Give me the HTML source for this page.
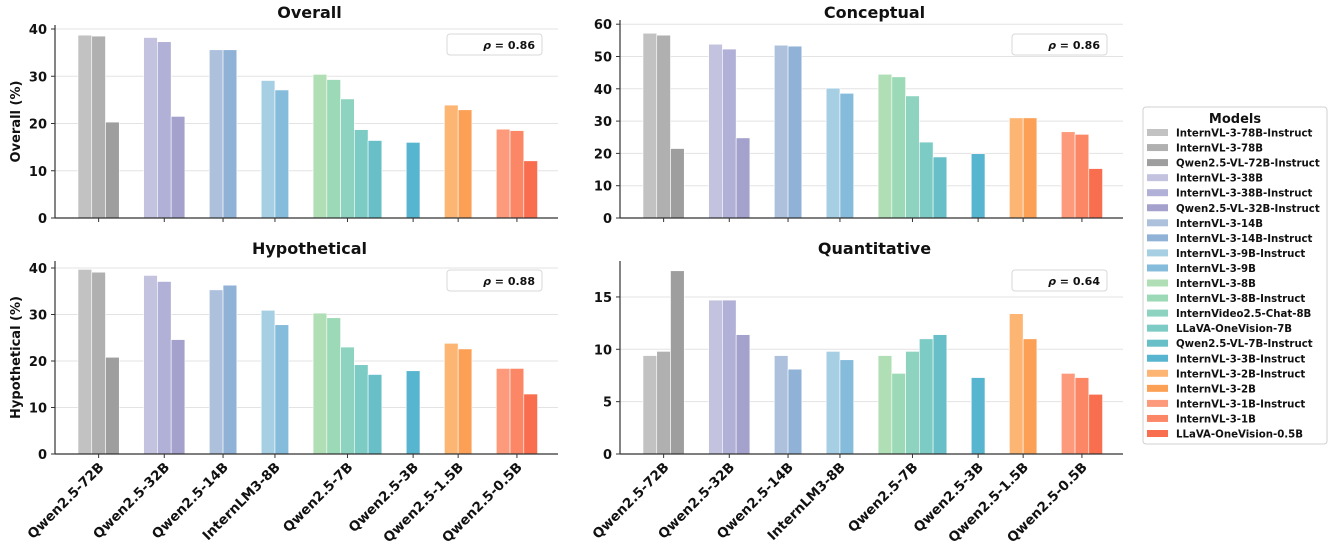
<!DOCTYPE html>
<html><head><meta charset="utf-8"><style>
body{margin:0;background:#fff;}
svg{display:block;font-family:"DejaVu Sans","Liberation Sans",sans-serif;}
</style></head><body>
<svg id="chart" width="1332" height="548" viewBox="0 0 1332 548" xmlns="http://www.w3.org/2000/svg"></svg>
<script>
const groups=["Qwen2.5-72B","Qwen2.5-32B","Qwen2.5-14B","InternLM3-8B","Qwen2.5-7B","Qwen2.5-3B","Qwen2.5-1.5B","Qwen2.5-0.5B"];
const groupSizes=[3,3,2,2,5,1,2,3];
const models=["InternVL-3-78B-Instruct","InternVL-3-78B","Qwen2.5-VL-72B-Instruct","InternVL-3-38B","InternVL-3-38B-Instruct","Qwen2.5-VL-32B-Instruct","InternVL-3-14B","InternVL-3-14B-Instruct","InternVL-3-9B-Instruct","InternVL-3-9B","InternVL-3-8B","InternVL-3-8B-Instruct","InternVideo2.5-Chat-8B","LLaVA-OneVision-7B","Qwen2.5-VL-7B-Instruct","InternVL-3-3B-Instruct","InternVL-3-2B-Instruct","InternVL-3-2B","InternVL-3-1B-Instruct","InternVL-3-1B","LLaVA-OneVision-0.5B"];
const colors=["#c2c2c2","#b0b0b0","#9e9e9e","#c3c3e0","#b1b0d6","#a4a1cc","#adc0dc","#8fb2d6","#a6cfe3","#86bcdb","#b0dfb6","#9cd9b6","#8ed3c0","#7ccbc4","#68bfc8","#58b5d0","#fdb574","#fca055","#fc9a7b","#fb8767","#f86e4e"];
const overall=[38.7,38.5,20.3,38.2,37.3,21.5,35.6,35.6,29.1,27.1,30.4,29.3,25.2,18.7,16.4,16.0,23.9,22.9,18.8,18.5,12.1];
const conceptual=[57.2,56.6,21.5,53.8,52.3,24.8,53.5,53.2,40.2,38.6,44.5,43.7,37.8,23.5,18.9,19.9,31.0,31.0,26.7,25.9,15.3];
const hypothetical=[39.7,39.1,20.8,38.4,37.1,24.6,35.3,36.3,30.9,27.8,30.3,29.3,23.0,19.2,17.1,17.9,23.8,22.6,18.4,18.4,12.9];
const quantitative=[9.4,9.8,17.5,14.7,14.7,11.4,9.4,8.1,9.8,9.0,9.4,7.7,9.8,11.0,11.4,7.3,13.4,11.0,7.7,7.3,5.7];
const panels=[
 {title:"Overall",ylabel:"Overall (%)",vals:overall,ticks:[0,10,20,30,40],ox:0,y0:218,ppu:4.725,top:25,ty:18,rho:"0.86",xlabels:false},
 {title:"Conceptual",ylabel:"",vals:conceptual,ticks:[0,10,20,30,40,50,60],ox:565,y0:218,ppu:3.23,top:20,ty:18,rho:"0.86",xlabels:false},
 {title:"Hypothetical",ylabel:"Hypothetical (%)",vals:hypothetical,ticks:[0,10,20,30,40],ox:0,y0:454,ppu:4.65,top:261,ty:254,rho:"0.88",xlabels:true},
 {title:"Quantitative",ylabel:"",vals:quantitative,ticks:[0,5,10,15],ox:565,y0:454,ppu:10.47,top:261,ty:254,rho:"0.64",xlabels:true}
];
const NS="http://www.w3.org/2000/svg";
const svg=document.getElementById('chart');
function mk(tag,attrs,parent,text){const e=document.createElementNS(NS,tag);for(const k in attrs)e.setAttribute(k,attrs[k]);if(text!==undefined)e.textContent=text;(parent||svg).appendChild(e);return e;}
const BW=13.75,GAP=24.4,X0=78;
function barX(i){let g=0,c=0;for(let k=0;k<groupSizes.length;k++){if(i<c+groupSizes[k]){g=k;break;}c+=groupSizes[k];}return X0+i*BW+g*GAP;}
function groupCenter(g){let s=0;for(let k=0;k<g;k++)s+=groupSizes[k];return barX(s)+groupSizes[g]*BW/2;}
panels.forEach((p,pi)=>{
 const g=mk('g',{});
 
 
 const L=55+p.ox,R=558+p.ox;
 const yS=v=>p.y0-v*p.ppu;
 p.ticks.forEach(t=>{
  if(t>0){const gl=mk('line',{x1:L,x2:R,y1:yS(t),y2:yS(t),stroke:'#e3e3e3','stroke-width':1},g);
  }
  mk('line',{x1:L-4,x2:L,y1:yS(t),y2:yS(t),stroke:'#333'},g);
  const tl=mk('text',{x:L-8,y:yS(t)+5,'text-anchor':'end','font-size':13,'font-weight':'bold',fill:'#111'},g,String(t));
  
 });
 p.vals.forEach((v,i)=>{
  const r=mk('rect',{x:barX(i)+p.ox,y:yS(v),width:BW,height:v*p.ppu,fill:colors[i],stroke:'#fff','stroke-width':0.6},g);
  
  
 });
 mk('line',{x1:L,x2:L,y1:p.top,y2:p.y0,stroke:'#333','stroke-width':1.2},g);
 mk('line',{x1:L,x2:R,y1:p.y0,y2:p.y0,stroke:'#333','stroke-width':1.2},g);
 groups.forEach((gn,gi)=>{
  const cx=groupCenter(gi)+p.ox;
  mk('line',{x1:cx,x2:cx,y1:p.y0,y2:p.y0+4,stroke:'#333'},g);
  if(p.xlabels){const t=mk('text',{x:0,y:0,'text-anchor':'end','font-size':13.5,'font-weight':'bold',fill:'#111',transform:`translate(${cx+6},${p.y0+14}) rotate(-45)`},g,gn);
  }
 });
 const tt=mk('text',{x:(L+R)/2+3,y:p.ty,'text-anchor':'middle','font-size':16,'font-weight':'bold',fill:'#111'},g,p.title);
 
 if(p.ylabel){const yl=mk('text',{x:0,y:0,'text-anchor':'middle','font-size':13,'font-weight':'bold',fill:'#111',transform:`translate(20,${(p.top+p.y0)/2}) rotate(-90)`},g,p.ylabel);
 }
 const bx=447+p.ox,by=(pi<2?34:270);
 const rb=mk('rect',{x:bx,y:by,width:95,height:21,rx:3,fill:'#fff',stroke:'#d8d8d8'},g);
 
 const rt=mk('text',{x:bx+88,y:by+15,'text-anchor':'end','font-size':11,'font-weight':'bold',fill:'#111'},g);
 
 mk('tspan',{'font-style':'italic'},rt,'ρ');
 mk('tspan',{},rt,' = '+p.rho);
});
const lg=mk('g',{});

mk('rect',{x:1143,y:107,width:184,height:337,rx:3,fill:'#fff',stroke:'#d0d0d0'},lg);
const lt=mk('text',{x:1235,y:123,'text-anchor':'middle','font-size':13,'font-weight':'bold',fill:'#111'},lg,'Models');

models.forEach((m,i)=>{
 const y=133+i*15.05;
 const e=mk('g',{},lg);
 
 mk('rect',{x:1147,y:y-4,width:21,height:7,fill:colors[i]},e);
 mk('text',{x:1176,y:y+3.5,'font-size':10.2,'font-weight':'bold',fill:'#111'},e,m);
});
</script>
</body></html>
